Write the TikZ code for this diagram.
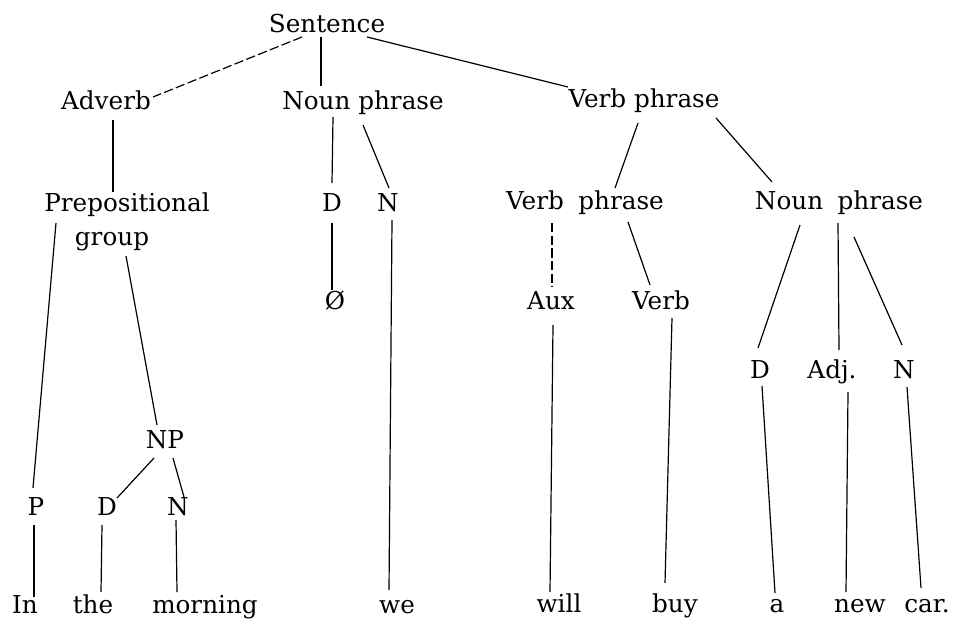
\documentclass[tikz,border=0pt]{standalone}
\usepackage{fontspec}
\setmainfont{DejaVu Serif}
\begin{document}
\begin{tikzpicture}[x=0.75pt,y=-0.75pt,
  lbl/.style={anchor=base, inner sep=0pt, font=\fontsize{18.5}{22}\selectfont},
  ln/.style={line width=0.9pt, black},
  brk/.style={ln, dash pattern=on 7pt off 2.5pt}]
\useasboundingbox (0,0) rectangle (955,623);
% nodes
\node[lbl] (S)    at (327,33)  {Sentence};
\node[lbl] (Adv)  at (106,110) {Adverb};
\node[lbl] (NPa)  at (363,110) {Noun phrase};
\node[lbl] (VPa)  at (644,108) {Verb phrase};
\node[lbl] (Prep) at (127,212) {Prepositional};
\node[lbl] (Grp)  at (112,246) {group};
\node[lbl] (Da)   at (332,212) {D};
\node[lbl] (Na)   at (388,212) {N};
\node[lbl] (VPb)  at (585,210) {Verb\hspace{5pt} phrase};
\node[lbl] (NPb)  at (839,210) {Noun\hspace{5pt} phrase};
\node[lbl] (Null) at (335,310) {Ø};
\node[lbl] (Aux)  at (551,310) {Aux};
\node[lbl] (Verb) at (661,310) {Verb};
\node[lbl] (NPs)  at (165,448) {NP};
\node[lbl] (Dc)   at (760,378) {D};
\node[lbl] (Adj)  at (832,378) {Adj.};
\node[lbl] (Nc)   at (904,378) {N};
\node[lbl] (P)    at (36,515)  {P};
\node[lbl] (Db)   at (107,515) {D};
\node[lbl] (Nb)   at (178,515) {N};
\node[lbl] (In)   at (25,613)  {In};
\node[lbl] (the)  at (93,613)  {the};
\node[lbl] (morn) at (205,613) {morning};
\node[lbl] (we)   at (397,613) {we};
\node[lbl] (will) at (559,612) {will};
\node[lbl] (buy)  at (675,612) {buy};
\node[lbl] (a)    at (777,612) {a};
\node[lbl] (new)  at (860,612) {new};
\node[lbl] (car)  at (927,612) {car.};
% connectors
\draw[brk] ([shift={(-25,4)}]S.base) -- ([shift={(47,-13)}]Adv.base);
\draw[ln] ([shift={(-6,4)}]S.base) -- ([shift={(-42,-24)}]NPa.base);
\draw[ln] ([shift={(40,4)}]S.base) -- ([shift={(-76,-21)}]VPa.base);
\draw[ln] ([shift={(7,10)}]Adv.base) -- ([shift={(-14,-20)}]Prep.base);
\draw[ln] ([shift={(-30,7)}]NPa.base) -- ([shift={(0,-29)}]Da.base);
\draw[ln] ([shift={(0,15)}]NPa.base) -- ([shift={(1,-24)}]Na.base);
\draw[ln] ([shift={(0,11)}]Da.base) -- ([shift={(-3,-20)}]Null.base);
\draw[ln] ([shift={(4,8)}]Na.base) -- ([shift={(-8,-23)}]we.base);
\draw[ln] ([shift={(-71,11)}]Prep.base) -- ([shift={(-3,-27)}]P.base);
\draw[ln] ([shift={(14,10)}]Grp.base) -- ([shift={(-8,-23)}]NPs.base);
\draw[ln] ([shift={(-11,10)}]NPs.base) -- ([shift={(10,-17)}]Db.base);
\draw[ln] ([shift={(8,10)}]NPs.base) -- ([shift={(6,-18)}]Nb.base);
\draw[ln] ([shift={(-2,10)}]P.base) -- ([shift={(9,-16)}]In.base);
\draw[ln] ([shift={(-5,10)}]Db.base) -- ([shift={(8,-21)}]the.base);
\draw[ln] ([shift={(-2,5)}]Nb.base) -- ([shift={(-28,-21)}]morn.base);
\draw[ln] ([shift={(-6,15)}]VPa.base) -- ([shift={(30,-22)}]VPb.base);
\draw[ln] ([shift={(72,10)}]VPa.base) -- ([shift={(-67,-28)}]NPb.base);
\draw[brk] ([shift={(-33,13)}]VPb.base) -- ([shift={(1,-23)}]Aux.base);
\draw[ln] ([shift={(43,12)}]VPb.base) -- ([shift={(-11,-25)}]Verb.base);
\draw[ln] ([shift={(-39,15)}]NPb.base) -- ([shift={(-2,-30)}]Dc.base);
\draw[ln] ([shift={(-1,13)}]NPb.base) -- ([shift={(7,-28)}]Adj.base);
\draw[ln] ([shift={(15,27)}]NPb.base) -- ([shift={(-2,-33)}]Nc.base);
\draw[ln] ([shift={(2,15)}]Aux.base) -- ([shift={(-9,-20)}]will.base);
\draw[ln] ([shift={(11,8)}]Verb.base) -- ([shift={(-10,-29)}]buy.base);
\draw[ln] ([shift={(2,8)}]Dc.base) -- ([shift={(-2,-19)}]a.base);
\draw[ln] ([shift={(16,14)}]Adj.base) -- ([shift={(-14,-20)}]new.base);
\draw[ln] ([shift={(3,9)}]Nc.base) -- ([shift={(-6,-24)}]car.base);
\end{tikzpicture}
\end{document}
